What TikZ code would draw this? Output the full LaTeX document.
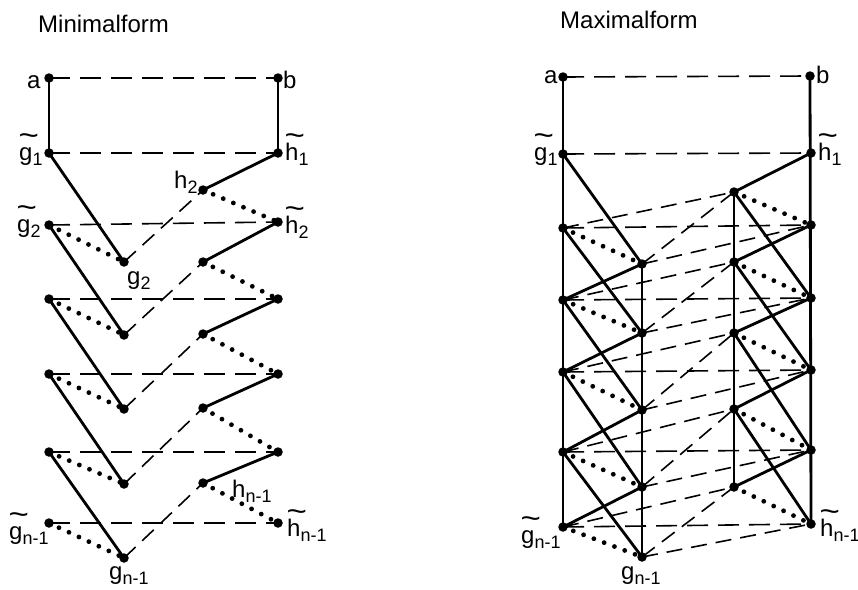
\documentclass[tikz,border=0pt]{standalone}
\usepackage{fontspec}
\usepackage{graphicx}
\setmainfont{Liberation Sans}
\newcommand{\mytld}[1]{\leavevmode\rlap{\raisebox{0.62em}{\kern-0.02em\scalebox{1.45}[1.25]{\textasciitilde}}}#1}
\newcommand{\mysub}[1]{\raisebox{-5pt}{\fontsize{18}{18}\selectfont #1}}
\begin{document}
\begin{tikzpicture}[x=1pt,y=-1pt,
  dot/.style={circle,fill,inner sep=0pt,minimum size=9.5pt},
  sol/.style={line width=2.8pt},
  dsh/.style={line width=1.6pt,dash pattern=on 16pt off 9pt},
  hdsh/.style={line width=1.6pt,dash pattern=on 21pt off 10pt},
  dtt/.style={line width=4.8pt,line cap=round,dash pattern=on 0pt off 11pt},
  lab/.style={anchor=base west,inner sep=0pt,font=\fontsize{24}{24}\selectfont},
  ttl/.style={anchor=base west,inner sep=0pt,font=\fontsize{24}{24}\selectfont}]
\useasboundingbox (0,0) rectangle (858,589);

% ---------------- Minimalform ----------------
\node[ttl] (t1) at (38,32) {Minimalform};
\node[dot] (ma) at (49,78) {};
\node[dot] (mb) at (278,78) {};
\foreach \i/\y in {1/153,2/225,3/299,4/374,5/452,6/523} \node[dot] (mL\i) at (49,\y) {};
\foreach \i/\y in {1/153,2/222,3/299,4/374,5/452,6/523} \node[dot] (mR\i) at (278,\y) {};
\foreach \i/\y in {2/262,3/335,4/409,5/484,6/558} \node[dot] (mg\i) at (124,\y) {};
\foreach \i/\y in {2/190,3/262,4/334,5/408,6/483} \node[dot] (mh\i) at (203,\y) {};

\draw[hdsh] (ma.center) -- (mb.center);
\draw[sol] (ma.center) -- (mL1.center);
\draw[sol] (mb.center) -- (mR1.center);
\foreach \i in {1,...,6} \draw[hdsh] (mL\i.center) -- (mR\i.center);
\foreach \i [count=\j from 2] in {1,...,5} {
  \draw[sol] (mL\i.center) -- (mg\j.center);
  \draw[sol] (mR\i.center) -- (mh\j.center);
}
\foreach \i in {2,...,6} {
  \draw[dtt] (mL\i.center) -- (mg\i.center);
  \draw[dtt] (mh\i.center) -- (mR\i.center);
  \draw[dsh] (mg\i.center) -- (mh\i.center);
}

\node[lab] (lma) at (27,88) {a};
\node[lab] (lmb) at (283,88) {b};
\node[lab] (lmg1) at (19,160) {\mytld{g}\mysub{1}};
\node[lab] (lmh1) at (285,160) {\mytld{h}\mysub{1}};
\node[lab] (lmh2) at (174,188) {h\mysub{2}};
\node[lab] (lmg2) at (17,232) {\mytld{g}\mysub{2}};
\node[lab] (lmht2) at (285,233) {\mytld{h}\mysub{2}};
\node[lab] (lmgs2) at (127,284) {g\mysub{2}};
\node[lab] (lmhn) at (232,497) {h\mysub{n-1}};
\node[lab] (lmgtn) at (9,539) {\mytld{g}\mysub{n-1}};
\node[lab] (lmhtn) at (287,536) {\mytld{h}\mysub{n-1}};
\node[lab] (lmgn) at (109,579) {g\mysub{n-1}};

% ---------------- Maximalform ----------------
\node[ttl] (t2) at (560,28) {Maximalform};
\node[dot] (xa) at (563,77) {};
\node[dot] (xb) at (810,76) {};
\foreach \i/\y in {1/154,2/228,3/300,4/372,5/452,6/527} \node[dot] (xL\i) at (563,\y) {};
\foreach \i/\y in {1/153,2/225,3/298,4/370,5/450,6/524} \node[dot] (xR\i) at (811,\y) {};
\foreach \i/\y in {2/264,3/333,4/410,5/487,6/557} \node[dot] (xg\i) at (642,\y) {};
\foreach \i/\y in {2/192,3/262,4/333,5/409,6/487} \node[dot] (xh\i) at (734,\y) {};

\draw[hdsh] (xa.center) -- (xb.center);
\draw[sol] (xa.center) -- (xL6.center);
\draw[sol] (xb.center) -- (xR6.center);
\draw[sol] (xg2.center) -- (xg6.center);
\draw[sol] (xh2.center) -- (xh6.center);
\foreach \i in {1,...,6} \draw[hdsh] (xL\i.center) -- (xR\i.center);
\foreach \i [count=\j from 2] in {1,...,5} {
  \draw[sol] (xL\i.center) -- (xg\j.center);
  \draw[sol] (xR\i.center) -- (xh\j.center);
}
\foreach \i [count=\j from 3] in {2,...,5} {
  \draw[sol] (xg\i.center) -- (xL\j.center);
  \draw[sol] (xh\i.center) -- (xR\j.center);
}
\foreach \i in {2,...,6} {
  \draw[dtt] (xL\i.center) -- (xg\i.center);
  \draw[dtt] (xh\i.center) -- (xR\i.center);
  \draw[dsh] (xL\i.center) -- (xh\i.center);
  \draw[dsh] (xg\i.center) -- (xh\i.center);
  \draw[dsh] (xg\i.center) -- (xR\i.center);
}

\node[lab] (lxa) at (544,83) {a};
\node[lab] (lxb) at (816,83) {b};
\node[lab] (lxg1) at (534,160) {\mytld{g}\mysub{1}};
\node[lab] (lxh1) at (818,160) {\mytld{h}\mysub{1}};
\node[lab] (lxgtn) at (521,543) {\mytld{g}\mysub{n-1}};
\node[lab] (lxhtn) at (820,536) {\mytld{h}\mysub{n-1}};
\node[lab] (lxgn) at (621,579) {g\mysub{n-1}};
\end{tikzpicture}
\end{document}
